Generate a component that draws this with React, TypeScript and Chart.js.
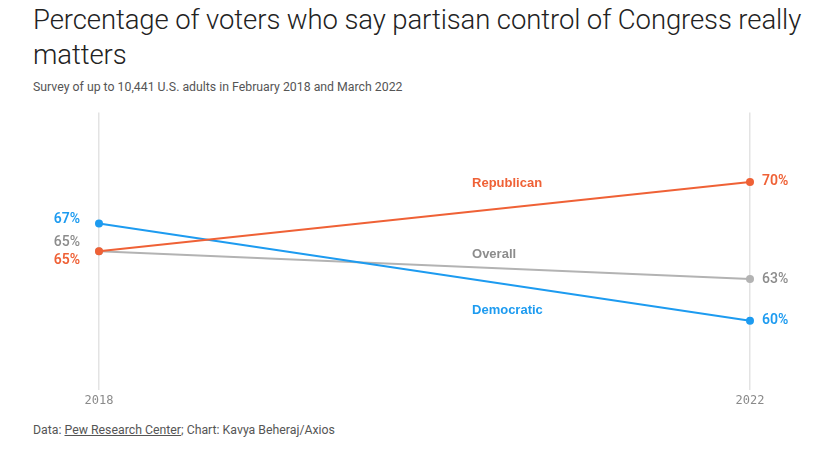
import React, { useEffect, useRef } from "react";
import { Chart, registerables } from "chart.js";

Chart.register(...registerables);

const years = ["2018", "2022"];
const seriesNames = ["Republican", "Democratic", "Overall"];
const republican = [65, 70];
const democratic = [67, 60];
const overall = [65, 63];
const seriesColors = ["#ef6136", "#1d9bf0", "#b3b3b3"];
const labelColors = ["#ef6136", "#1d9bf0", "#8c8c8c"];
// position of series-name labels: [fractional category index, value]
const nameLabelX = [0.573, 0.573, 0.573];
const nameLabelY = [69.9, 60.75, 64.8];
// vertical nudges for start-value labels to keep them apart (px)
const startLabelNudge = [9, -4, -9];

const TITLE_FONT = "Roboto, 'Noto Sans', sans-serif";

const labelPlugin = {
  id: "lineLabels",
  afterDatasetsDraw(chart: any) {
    const ctx = chart.ctx;
    const xs = chart.scales.x;
    const ys = chart.scales.y;
    ctx.save();
    ctx.textBaseline = "middle";
    chart.data.datasets.forEach((ds: any, i: number) => {
      const gray = i === 2;
      ctx.font = `${gray ? 500 : 600} 14px Roboto, 'Noto Sans', sans-serif`;
      ctx.fillStyle = labelColors[i];
      const v0 = ds.data[0];
      const v1 = ds.data[ds.data.length - 1];
      ctx.textAlign = "right";
      ctx.fillText(`${v0}%`, xs.getPixelForValue(0) - 19, ys.getPixelForValue(v0) + startLabelNudge[i]);
      ctx.textAlign = "left";
      ctx.fillText(`${v1}%`, xs.getPixelForValue(ds.data.length - 1) + 12, ys.getPixelForValue(v1));
      ctx.font = "bold 13px 'Liberation Sans', Arial, sans-serif";
      ctx.fillText(ds.label, xs.getPixelForValue(nameLabelX[i]), ys.getPixelForValue(nameLabelY[i]));
    });
    ctx.restore();
  },
};

export default function App() {
  const ref = useRef<HTMLCanvasElement>(null);
  useEffect(() => {
    if (!ref.current) return;
    const values = [republican, democratic, overall];
    const chart = new Chart(ref.current, {
      type: "line",
      data: {
        labels: years,
        datasets: values.map((d, i) => ({
          label: seriesNames[i],
          data: d,
          borderColor: seriesColors[i],
          backgroundColor: seriesColors[i],
          borderWidth: 2,
          pointRadius: 4,
          pointHoverRadius: 4,
          pointBorderWidth: 0,
          tension: 0,
        })),
      },
      options: {
        animation: false,
        responsive: false,
        events: [],
        layout: { padding: { left: 99, right: 80, top: 12.5, bottom: 7.5 } },
        plugins: { legend: { display: false }, tooltip: { enabled: false } },
        scales: {
          x: {
            type: "category",
            offset: false,
            grid: { color: "#e3e3e3", lineWidth: 1.5, drawTicks: false },
            border: { display: false },
            ticks: {
              padding: 4,
              color: "#8a8a8a",
              font: { family: "'DejaVu Sans Mono', 'Liberation Mono', monospace", size: 12 },
              maxRotation: 0,
            },
          },
          y: { display: false, min: 55, max: 75 },
        },
      },
      plugins: [labelPlugin],
    });
    return () => chart.destroy();
  }, []);

  return (
    <div style={{ position: "absolute", left: 0, top: 0, width: 830, height: 453, background: "#fff", fontFamily: TITLE_FONT }}>
      <div
        style={{
          position: "absolute",
          left: 33,
          top: 2,
          width: 795,
          fontSize: 27.5,
          lineHeight: "35px",
          fontWeight: 300,
          color: "#222",
          letterSpacing: -0.1,
        }}
      >
        Percentage of voters who say partisan control of Congress really matters
      </div>
      <div style={{ position: "absolute", left: 33, top: 80, fontSize: 12.3, color: "#555", whiteSpace: "nowrap" }}>
        Survey of up to 10,441 U.S. adults in February 2018 and March 2022
      </div>
      <canvas ref={ref} width={830} height={320} style={{ position: "absolute", left: 0, top: 100, width: 830, height: 320 }} />
      <div style={{ position: "absolute", left: 33, top: 423, fontSize: 12.3, color: "#555", whiteSpace: "nowrap" }}>
        Data: <span style={{ textDecoration: "underline" }}>Pew Research Center</span>; Chart: Kavya Beheraj/Axios
      </div>
    </div>
  );
}
